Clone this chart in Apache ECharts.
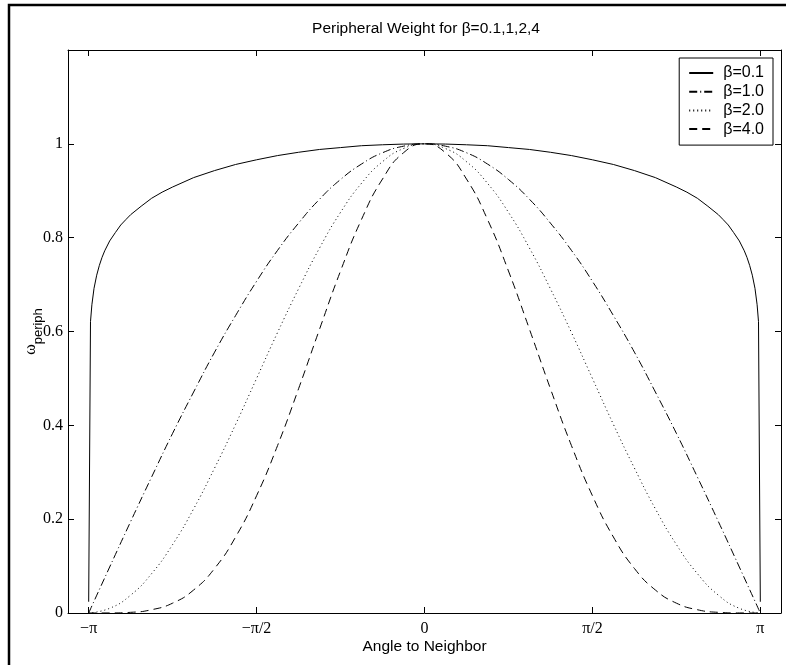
<!DOCTYPE html>
<html>
<head>
<meta charset="utf-8">
<script src="https://cdn.jsdelivr.net/npm/echarts@6/dist/echarts.min.js"></script>
<style>html,body{margin:0;padding:0;background:#fff}#c{width:786px;height:665px}</style>
</head>
<body>
<div id="c"></div>
<script>
// Angles (radians) for the beta = 1, 2, 4 curves
const angles = [-3.1416,-2.9452,-2.7489,-2.5525,-2.3562,-2.1598,-1.9635,-1.7671,-1.5708,-1.3744,-1.1781,-0.9817,-0.7854,-0.5890,-0.3927,-0.1963,0,
  0.1963,0.3927,0.5890,0.7854,0.9817,1.1781,1.3744,1.5708,1.7671,1.9635,2.1598,2.3562,2.5525,2.7489,2.9452,3.1416];
const beta1 = [0,0.098,0.195,0.290,0.383,0.471,0.556,0.634,0.707,0.773,0.831,0.882,0.924,0.957,0.981,0.995,1,
  0.995,0.981,0.957,0.924,0.882,0.831,0.773,0.707,0.634,0.556,0.471,0.383,0.290,0.195,0.098,0];
const beta2 = [0,0.010,0.038,0.084,0.146,0.222,0.309,0.402,0.500,0.598,0.691,0.778,0.854,0.916,0.962,0.990,1,
  0.990,0.962,0.916,0.854,0.778,0.691,0.598,0.500,0.402,0.309,0.222,0.146,0.084,0.038,0.010,0];
const beta4 = [0,0.0001,0.0014,0.007,0.021,0.049,0.095,0.162,0.250,0.357,0.478,0.605,0.729,0.839,0.925,0.981,1,
  0.981,0.925,0.839,0.729,0.605,0.478,0.357,0.250,0.162,0.095,0.049,0.021,0.007,0.0014,0.0001,0];
// beta = 0.1 curve, sampled more densely near the ends
const anglesB01 = [-3.1416,-3.1246,-3.1116,-3.0916,-3.0666,-3.0416,-3.0166,-2.9916,-2.9452,-2.8916,-2.8416,-2.7916,-2.7489,-2.6507,-2.5525,-2.4544,-2.3562,-2.1598,-1.9635,-1.7671,-1.5708,-1.3744,-1.1781,-0.9817,-0.7854,-0.5890,-0.3927,-0.1963,0,
  0.1963,0.3927,0.5890,0.7854,0.9817,1.1781,1.3744,1.5708,1.7671,1.9635,2.1598,2.3562,2.4544,2.5525,2.6507,2.7489,2.7916,2.8416,2.8916,2.9452,2.9916,3.0166,3.0416,3.0666,3.0916,3.1116,3.1246,3.1416];
const beta01 = [0.024,0.621,0.657,0.692,0.720,0.741,0.758,0.772,0.793,0.811,0.827,0.839,0.849,0.867,0.884,0.897,0.908,0.928,0.943,0.956,0.966,0.975,0.982,0.988,0.992,0.996,0.998,0.9995,1,
  0.9995,0.998,0.996,0.992,0.988,0.982,0.975,0.966,0.956,0.943,0.928,0.908,0.897,0.884,0.867,0.849,0.839,0.827,0.811,0.793,0.772,0.758,0.741,0.720,0.692,0.657,0.621,0.024];

const seriesNames = ['β=0.1','β=1.0','β=2.0','β=4.0'];
const xTickValues = [-Math.PI,-Math.PI/2,0,Math.PI/2,Math.PI];
const xTickLabels = ['−π','−π/2','0','π/2','π'];
const yTickValues = [0,0.2,0.4,0.6,0.8,1];

function pairs(xs, ys){ return xs.map((x,i)=>[x, ys[i]]); }
function xLabel(v){
  for (let i=0;i<xTickValues.length;i++) if (Math.abs(v-xTickValues[i])<1e-6) return xTickLabels[i];
  return '';
}

const XMIN=-3.335, XMAX=3.335;
const serifLbl = {fontFamily:'Liberation Serif', fontSize:16, color:'#000'};

const chart = echarts.init(document.getElementById('c'), null, {renderer:'canvas'});
chart.setOption({
  animation:false,
  backgroundColor:'#fff',
  title:{
    text:'Peripheral Weight for β=0.1,1,2,4',
    left:421, textAlign:'center', top:16,
    textStyle:{fontFamily:'Liberation Sans', fontSize:15.5, fontWeight:'normal', color:'#000'}
  },
  graphic:[{type:'rect', shape:{x:9,y:5,width:900,height:800}, style:{fill:null, stroke:'#000', lineWidth:2.5}, silent:true}],
  legend:{
    orient:'vertical', right:13, top:58,
    data:seriesNames,
    backgroundColor:'#fff', borderColor:'#000', borderWidth:1,
    padding:[7,9,8,9],
    itemWidth:24, itemHeight:14, itemGap:2.7,
    itemStyle:{color:'transparent', borderWidth:0, opacity:0},
    textStyle:{fontFamily:'Liberation Sans', fontSize:16, lineHeight:16, color:'#000', padding:[0,0,0,5]}
  },
  grid:{left:68, right:5, top:50, bottom:52, containLabel:false},
  xAxis:[{
    type:'value', min:XMIN, max:XMAX, position:'bottom',
    name:'Angle to Neighbor', nameLocation:'middle', nameGap:26, nameMoveOverlap:false,
    nameTextStyle:{fontFamily:'Liberation Sans', fontSize:15.5, color:'#000'},
    axisLine:{onZero:false, lineStyle:{color:'#000', width:1}},
    axisTick:{inside:true, length:6, customValues:xTickValues, lineStyle:{color:'#000'}},
    axisLabel:Object.assign({customValues:xTickValues, formatter:xLabel, margin:8}, serifLbl),
    splitLine:{show:false}
  },{
    type:'value', min:XMIN, max:XMAX, position:'top',
    axisLine:{onZero:false, lineStyle:{color:'#000', width:1}},
    axisTick:{inside:true, length:6, customValues:xTickValues, lineStyle:{color:'#000'}},
    axisLabel:{show:false}, splitLine:{show:false}
  }],
  yAxis:[{
    type:'value', min:0, max:1.2, position:'left',
    name:'{a|ω}{b|periph}', nameLocation:'middle', nameGap:23, nameRotate:90, nameMoveOverlap:false,
    nameTextStyle:{
      color:'#000',
      rich:{
        a:{fontFamily:'Liberation Serif', fontSize:16, color:'#000', lineHeight:22, verticalAlign:'top'},
        b:{fontFamily:'Liberation Sans', fontSize:13, color:'#000', lineHeight:22, verticalAlign:'bottom', padding:[6,0,0,0]}
      }
    },
    axisLine:{onZero:false, lineStyle:{color:'#000', width:1}},
    axisTick:{inside:true, length:6, customValues:yTickValues, lineStyle:{color:'#000'}},
    axisLabel:Object.assign({customValues:yTickValues, margin:5}, serifLbl),
    splitLine:{show:false}
  },{
    type:'value', min:0, max:1.2, position:'right',
    axisLine:{onZero:false, lineStyle:{color:'#000', width:1}},
    axisTick:{inside:true, length:6, customValues:yTickValues, lineStyle:{color:'#000'}},
    axisLabel:{show:false}, splitLine:{show:false}
  }],
  series:[
    {name:seriesNames[0], type:'line', data:pairs(anglesB01, beta01), showSymbol:false, symbol:'none', smooth:false,
     lineStyle:{color:'#000', width:1, type:'solid'}, itemStyle:{color:'#000'}},
    {name:seriesNames[1], type:'line', data:pairs(angles, beta1), showSymbol:false, symbol:'none', smooth:true,
     lineStyle:{color:'#000', width:1, type:[8,3,1,3]}, itemStyle:{color:'#000'}},
    {name:seriesNames[2], type:'line', data:pairs(angles, beta2), showSymbol:false, symbol:'none', smooth:true,
     lineStyle:{color:'#000', width:1, type:[1,3]}, itemStyle:{color:'#000'}},
    {name:seriesNames[3], type:'line', data:pairs(angles, beta4), showSymbol:false, symbol:'none', smooth:true,
     lineStyle:{color:'#000', width:1, type:[8,5]}, itemStyle:{color:'#000'}}
  ]
});
</script>
</body>
</html>
